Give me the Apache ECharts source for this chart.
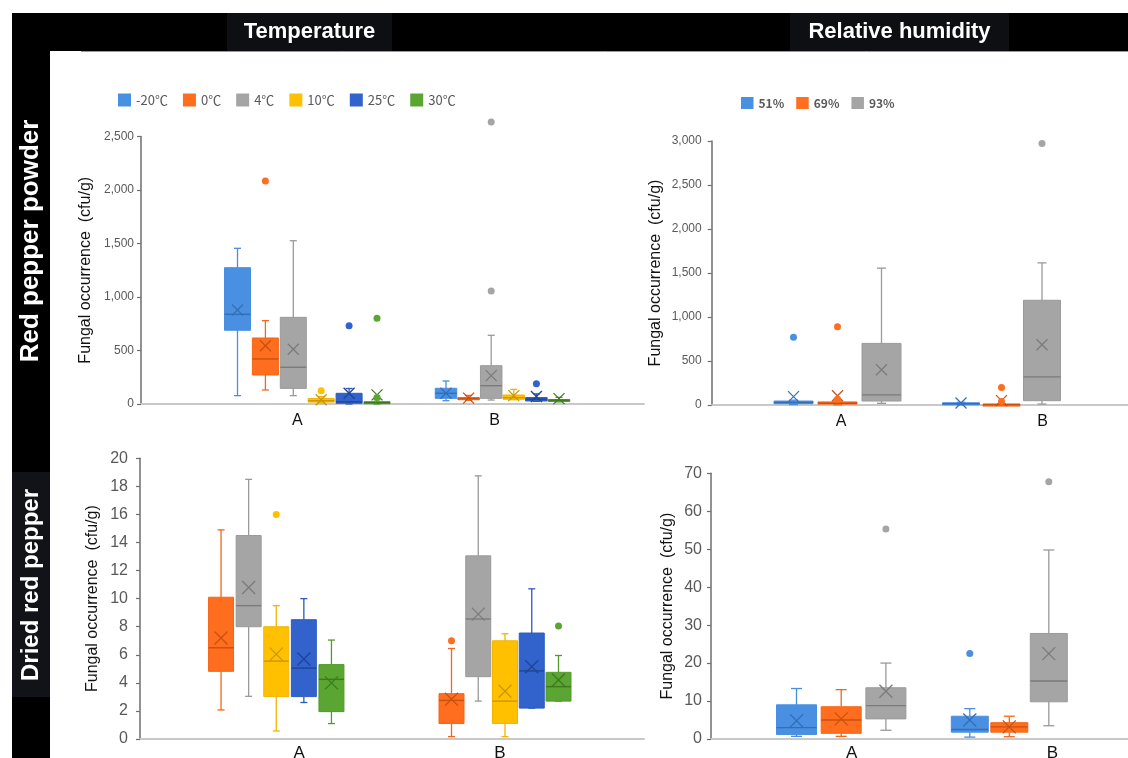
<!DOCTYPE html>
<html><head><meta charset="utf-8">
<script src="https://cdn.jsdelivr.net/npm/echarts@6/dist/echarts.min.js"></script>
<style>html,body{margin:0;padding:0;background:#fff}#c{width:1128px;height:758px}</style>
</head><body><div id="c"></div>
<script>
// ---------------- DATA ----------------
const groups = ['A', 'B'];
const tempNames = ['-20℃', '0℃', '4℃', '10℃', '25℃', '30℃'];
const humNames = ['51%', '69%', '93%'];
const tempAxisTitle = 'Temperature';
const humAxisTitle = 'Relative humidity';
const rowTitles = ['Red pepper powder', 'Dried red pepper'];
const yAxisName = 'Fungal occurrence  (cfu/g)';

// Box values: [min, Q1, median, Q3, max] for group A, group B
const powderTempBoxes = [
  [[78, 689, 838, 1274, 1455], [31, 53, 100, 147, 215]],   // -20℃
  [[131, 271, 421, 617, 779], [35, 40, 50, 60, 80]],       // 0℃
  [[78, 146, 343, 810, 1526], [37, 53, 171, 358, 642]],    // 4℃
  [[10, 18, 30, 52, 70], [40, 44, 59, 84, 137]],           // 10℃
  [[0, 7, 20, 100, 145], [25, 28, 45, 60, 95]],            // 25℃
  [[0, 5, 12, 22, 40], [20, 28, 35, 42, 62]]               // 30℃
];
const powderTempMeans = [[878, 100], [545, 55], [511, 265], [40, 78], [100, 70], [85, 50]];
const powderTempOutliers = [[[], []], [[2084], []], [[], [1056, 2636]], [[125], []], [[732], [190]], [[60, 801], []]];

const powderHumBoxes = [
  [[5, 15, 28, 45, 55], [2, 8, 15, 25, 30]],               // 51%
  [[3, 10, 20, 35, 45], [0, 3, 5, 10, 15]],                // 69%
  [[19, 45, 115, 700, 1555], [11, 49, 320, 1190, 1615]]    // 93%
];
const powderHumMeans = [[95, 22], [105, 50], [400, 685]];
const powderHumOutliers = [[[770], []], [[65, 890], [40, 200]], [[], [2973]]];

// Dried red pepper – temperature (no -20℃ data)
const driedTempSeries = [1, 2, 3, 4, 5]; // indices into tempNames
const driedTempBoxes = [
  [[2.07, 4.82, 6.5, 10.1, 14.9], [0.17, 1.1, 2.75, 3.23, 6.45]],   // 0℃
  [[3.04, 8.0, 9.5, 14.5, 18.5], [2.7, 4.44, 8.55, 13.05, 18.75]],  // 4℃
  [[0.57, 3.02, 5.55, 8.0, 9.5], [0.17, 1.1, 2.7, 7.0, 7.5]],       // 10℃
  [[2.6, 3.02, 5.05, 8.5, 10.0], [2.2, 2.2, 4.85, 7.55, 10.7]],     // 25℃
  [[1.1, 1.95, 4.25, 5.3, 7.05], [2.7, 2.7, 3.73, 4.75, 5.95]]      // 30℃
];
const driedTempMeans = [[7.2, 2.83], [10.8, 8.9], [6.05, 3.4], [5.7, 5.15], [4.0, 4.2]];
const driedTempOutliers = [[[], [7.0]], [[], []], [[16.0], []], [[], []], [[], [8.05]]];

const driedHumBoxes = [
  [[0.7, 1.2, 3.0, 9.0, 13.3], [0.5, 1.8, 2.5, 6.0, 8.0]],        // 51%
  [[0.7, 1.5, 5.0, 8.5, 13.0], [0.6, 1.8, 3.2, 4.3, 6.0]],        // 69%
  [[2.3, 5.3, 8.8, 13.5, 20.0], [3.5, 9.8, 15.3, 27.8, 49.8]]     // 93%
];
const driedHumMeans = [[4.8, 5.0], [5.3, 3.2], [12.6, 22.5]];
const driedHumOutliers = [[[], [22.5]], [[], []], [[55.3], [67.8]]];

const tempYTicks = [0, 500, 1000, 1500, 2000, 2500];
const humYTicks = [0, 500, 1000, 1500, 2000, 2500, 3000];
const driedTempYTicks = [0, 2, 4, 6, 8, 10, 12, 14, 16, 18, 20];
const driedHumYTicks = [0, 10, 20, 30, 40, 50, 60, 70];

// ---------------- STYLE ----------------
const tempPalette = [
  { fill: '#4a90e2', stroke: '#4a8ee0', dark: '#336fb8' },
  { fill: '#ff6d1f', stroke: '#f56618', dark: '#c95212' },
  { fill: '#a5a5a5', stroke: '#9a9a9a', dark: '#7b7b7b' },
  { fill: '#ffc000', stroke: '#f2b400', dark: '#c99700' },
  { fill: '#3262cc', stroke: '#2d5bbd', dark: '#1f4594' },
  { fill: '#5ba532', stroke: '#529b2b', dark: '#3d7a1f' }
];
const humPalette = [tempPalette[0], tempPalette[1], tempPalette[2]];

const panels = [
  { names: tempNames, pal: tempPalette, idx: [0, 1, 2, 3, 4, 5], boxes: powderTempBoxes, means: powderTempMeans, outliers: powderTempOutliers,
    ticks: tempYTicks, comma: true, labelSize: 12, labelMargin: 7,
    axisX: [141, 644], axisY: [136.5, 404], groupX: [307.25, 502.5], spacing: [27.9, 22.6], boxW: [26, 21.5],
    cap: 7, xs: 5.5, dot: 3.5, labelShift: [-10, -8], xLabelSize: 16, xLabelMargin: 9, nameGap: 47 },
  { names: humNames, pal: humPalette, idx: [0, 1, 2], boxes: powderHumBoxes, means: powderHumMeans, outliers: powderHumOutliers,
    ticks: humYTicks, comma: true, labelSize: 12, labelMargin: 10,
    axisX: [711.7, 1128], axisY: [141, 405], groupX: [837.5, 1001.5], spacing: [44, 40.5], boxW: [39, 37],
    cap: 9, xs: 5.5, dot: 3.5, labelShift: [3.5, 41], xLabelSize: 16, xLabelMargin: 9, nameGap: 48 },
  { names: tempNames, pal: tempPalette, idx: driedTempSeries, boxes: driedTempBoxes, means: driedTempMeans, outliers: driedTempOutliers,
    ticks: driedTempYTicks, comma: false, labelSize: 16, labelMargin: 12,
    axisX: [140, 644], axisY: [458.3, 739], groupX: [276.25, 505], spacing: [27.6, 26.75], boxW: [25, 25],
    cap: 7, xs: 6.5, dot: 3.5, labelShift: [23, -5], xLabelSize: 17, xLabelMargin: 6, nameGap: 39 },
  { names: humNames, pal: humPalette, idx: [0, 1, 2], boxes: driedHumBoxes, means: driedHumMeans, outliers: driedHumOutliers,
    ticks: driedHumYTicks, comma: false, labelSize: 16, labelMargin: 9,
    axisX: [711, 1128], axisY: [473.3, 739], groupX: [841.2, 1009.3], spacing: [44.7, 39.5], boxW: [40, 37],
    cap: 11, xs: 6.5, dot: 3.5, labelShift: [10.5, 43], xLabelSize: 17, xLabelMargin: 6, nameGap: 35 }
];

const W = 1128, H = 758;
const grids = [], xAxes = [], yAxes = [], series = [];

panels.forEach(function (p, pi) {
  const u = p.groupX[1] - p.groupX[0];
  grids.push({ left: p.axisX[0], right: W - p.axisX[1], top: p.axisY[0], bottom: H - p.axisY[1], outerBoundsMode: 'none', containLabel: false });
  const sA = p.labelShift[0], sB = p.labelShift[1];
  const pad = s => s >= 0 ? [0, 0, 0, 2 * s] : [0, -2 * s, 0, 0];
  const lab = { fontSize: p.xLabelSize, color: '#111', fontFamily: 'Liberation Sans, Arial, sans-serif' };
  xAxes.push({
    type: 'value', gridIndex: pi,
    min: -(p.groupX[0] - p.axisX[0]) / u,
    max: 1 + (p.axisX[1] - p.groupX[1]) / u,
    axisLine: { show: true, onZero: false, lineStyle: { color: '#c8c8c8', width: 2 } },
    axisTick: { show: false },
    splitLine: { show: false },
    axisLabel: {
      show: true, customValues: [0, 1], margin: p.xLabelMargin,
      formatter: v => (Math.round(v) === 0 ? '{a|' + groups[0] + '}' : '{b|' + groups[1] + '}'),
      rich: { a: Object.assign({ padding: pad(sA) }, lab), b: Object.assign({ padding: pad(sB) }, lab) }
    }
  });
  const maxT = p.ticks[p.ticks.length - 1];
  yAxes.push({
    type: 'value', gridIndex: pi, min: p.ticks[0], max: maxT, interval: p.ticks[1] - p.ticks[0],
    name: yAxisName, nameLocation: 'middle', nameGap: p.nameGap, nameRotate: 90,
    nameTextStyle: { fontSize: 16, color: '#111', fontFamily: 'Liberation Sans, Arial, sans-serif' },
    axisLine: { show: true, onZero: false, lineStyle: { color: '#6e6e6e', width: 1.5 } },
    axisTick: { show: true, length: 4, lineStyle: { color: '#6e6e6e', width: 1.2 } },
    splitLine: { show: false },
    axisLabel: {
      margin: p.labelMargin, fontSize: p.labelSize, color: '#595959', fontFamily: 'Liberation Sans, Arial, sans-serif',
      formatter: v => p.comma ? Number(v).toLocaleString('en-US') : String(v)
    }
  });

  const n = p.idx.length;
  p.idx.forEach(function (ci, si) {
    const c = p.pal[ci];
    const name = p.names[ci];
    const boxData = groups.map((g, gi) => [gi].concat(p.boxes[si][gi], [p.means[si][gi]]));
    series.push({
      type: 'custom', name: name, xAxisIndex: pi, yAxisIndex: pi,
      itemStyle: { color: c.fill },
      encode: { x: 0, y: [1, 2, 3, 4, 5, 6] },
      data: boxData, silent: true, clip: false,
      renderItem: function (params, api) {
        const gi = api.value(0);
        const off = (si - (n - 1) / 2) * p.spacing[gi];
        const cx = api.coord([gi, 0])[0] + off;
        const Y = k => api.coord([gi, api.value(k)])[1];
        const yMin = Y(1), yQ1 = Y(2), yMed = Y(3), yQ3 = Y(4), yMax = Y(5), yMean = Y(6);
        const hw = p.boxW[gi] / 2, hc = p.cap / 2, xs = p.xs;
        const L = (x1, y1, x2, y2, st, lw) => ({ type: 'line', shape: { x1: x1, y1: y1, x2: x2, y2: y2 }, style: { stroke: st, lineWidth: lw } });
        return { type: 'group', children: [
          L(cx, yQ3, cx, yMax, c.stroke, 1.3),
          L(cx - hc, yMax, cx + hc, yMax, c.stroke, 1.3),
          L(cx, yQ1, cx, yMin, c.stroke, 1.3),
          L(cx - hc, yMin, cx + hc, yMin, c.stroke, 1.3),
          { type: 'rect', shape: { x: cx - hw, y: yQ3, width: 2 * hw, height: Math.max(yQ1 - yQ3, 2) }, style: { fill: c.fill, stroke: c.stroke, lineWidth: 1 } },
          L(cx - hw, yMed, cx + hw, yMed, c.dark, 1.4),
          L(cx - xs, yMean - xs, cx + xs, yMean + xs, c.dark, 1.3),
          L(cx - xs, yMean + xs, cx + xs, yMean - xs, c.dark, 1.3)
        ] };
      }
    });
    const outData = [];
    groups.forEach((g, gi) => p.outliers[si][gi].forEach(v => outData.push([gi, v])));
    series.push({
      type: 'custom', name: name, xAxisIndex: pi, yAxisIndex: pi,
      itemStyle: { color: c.fill },
      encode: { x: 0, y: 1 },
      data: outData, silent: true, clip: false,
      renderItem: function (params, api) {
        const gi = api.value(0);
        const off = (si - (n - 1) / 2) * p.spacing[gi];
        const pt = api.coord([gi, api.value(1)]);
        return { type: 'circle', shape: { cx: pt[0] + off, cy: pt[1], r: p.dot }, style: { fill: c.fill } };
      }
    });
  });
});

const hdrFont = { fill: '#fff', fontSize: 22, fontWeight: 'bold', fontFamily: 'Liberation Sans, Arial, sans-serif', align: 'center', verticalAlign: 'middle' };

const option = {
  animation: false,
  backgroundColor: '#fff',
  grid: grids, xAxis: xAxes, yAxis: yAxes, series: series,
  legend: [
    { data: tempNames, left: 118, top: 93.5, padding: 0, icon: 'rect', itemWidth: 13, itemHeight: 13, itemGap: 15,
      textStyle: { fontSize: 13, color: '#595959', fontFamily: 'Noto Sans CJK KR' }, selectedMode: false },
    { data: humNames, left: 741, top: 97, padding: 0, icon: 'rect', itemWidth: 12.5, itemHeight: 12, itemGap: 12,
      textStyle: { fontSize: 12, fontWeight: 'bold', color: '#595959', fontFamily: 'Noto Sans CJK KR' }, selectedMode: false }
  ],
  graphic: [
    { type: 'rect', silent: true, z: -10, shape: { x: 12, y: 13, width: W - 12, height: 38 }, style: { fill: '#000' } },
    { type: 'rect', silent: true, z: -10, shape: { x: 12, y: 13, width: 38, height: H - 13 }, style: { fill: '#000' } },
    { type: 'rect', silent: true, z: -9, shape: { x: 227, y: 13, width: 165, height: 38 }, style: { fill: '#0e0f13' } },
    { type: 'rect', silent: true, z: -9, shape: { x: 790, y: 13, width: 219, height: 38 }, style: { fill: '#0e0f13' } },
    { type: 'rect', silent: true, z: -9, shape: { x: 12, y: 472, width: 38, height: 225 }, style: { fill: '#111318' } },
    { type: 'line', silent: true, z: -9, shape: { x1: 81, y1: 51.5, x2: W, y2: 51.5 }, style: { stroke: '#9a9a9a', lineWidth: 1 } },
    { type: 'text', silent: true, x: 309.5, y: 32, style: Object.assign({ text: tempAxisTitle }, hdrFont) },
    { type: 'text', silent: true, x: 899.5, y: 32, style: Object.assign({ text: humAxisTitle }, hdrFont) },
    { type: 'text', silent: true, x: 31, y: 241, rotation: Math.PI / 2, style: Object.assign({ text: rowTitles[0] }, hdrFont, { fontSize: 26 }) },
    { type: 'text', silent: true, x: 31, y: 585, rotation: Math.PI / 2, style: Object.assign({ text: rowTitles[1] }, hdrFont, { fontSize: 24 }) }
  ]
};

const chart = echarts.init(document.getElementById('c'), null, { renderer: 'canvas' });
chart.setOption(option);
</script>
</body></html>
